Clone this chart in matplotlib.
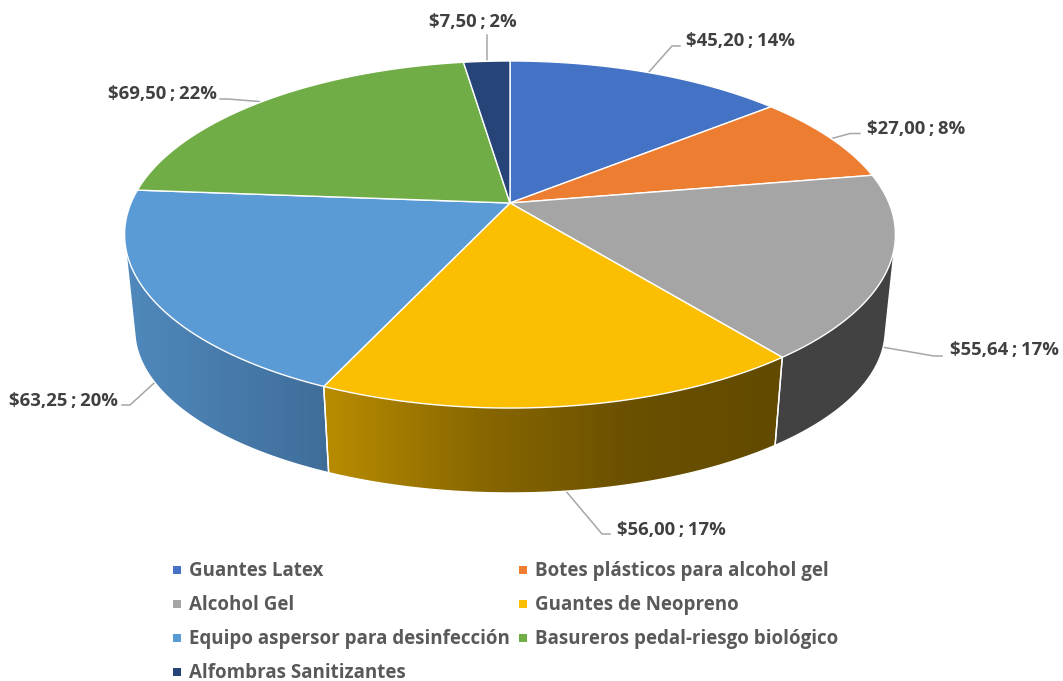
import numpy as np
import matplotlib
matplotlib.use("Agg")
import matplotlib.pyplot as plt
from matplotlib.patches import Polygon, Rectangle
from matplotlib.colors import LinearSegmentedColormap

categories = ["Guantes Latex", "Botes plásticos para alcohol gel", "Alcohol Gel", "Guantes de Neopreno",
              "Equipo aspersor para desinfección", "Basureros pedal-riesgo biológico", "Alfombras Sanitizantes"]
values = [45.20, 27.00, 55.64, 56.00, 63.25, 69.50, 7.50]
value_labels = ["$45,20", "$27,00", "$55,64", "$56,00", "$63,25", "$69,50", "$7,50"]
percent_labels = ["14%", "8%", "17%", "17%", "20%", "22%", "2%"]

top_colors = ["#4472c4", "#ed7d31", "#a5a5a5", "#fbbe00", "#5b9bd5", "#70ad47", "#264478"]
side_colors = [("#2f5597", "#2f5597"), ("#a85a20", "#a85a20"), ("#424242", "#424242"),
               ("#b98c00", "#8a6800", "#6a5000", "#624a00"),
               ("#5089bd", "#3f6d99"), ("#4e7a32", "#4e7a32"), ("#1a2f54", "#1a2f54")]

# pie geometry, pixels
cx, cy = 510, 203
rx, ry = 379, 167.8
persp = 0.1816
# the bottom disc has its own centre and radii
cy2 = 300.4
rx2, ry2 = 369, 157.6


def project(t, bottom=False):
    x, y = np.sin(t), np.cos(t)
    d = 1 + persp * y
    if bottom:
        return cx + rx2 * x / d, cy2 - ry2 * y / d
    return cx + rx * x / d, cy - ry * y / d


def hull(points):
    pts = sorted(map(tuple, points))

    def half(seq):
        out = []
        for p in seq:
            while len(out) > 1 and ((out[-1][0] - out[-2][0]) * (p[1] - out[-2][1])
                                    - (out[-1][1] - out[-2][1]) * (p[0] - out[-2][0])) <= 0:
                out.pop()
            out.append(p)
        return out[:-1]

    return np.array(half(pts) + half(pts[::-1]))


fig = plt.figure(figsize=(10.63, 6.81), dpi=100)
ax = fig.add_axes([0, 0, 1, 1])

edges = np.concatenate([[0], np.cumsum(values)]) / np.sum(values) * 2 * np.pi

# side walls first, the top covers whatever is behind
for i in range(len(values)):
    t = np.linspace(edges[i], edges[i + 1], 120)
    x1, y1 = project(t)
    x2, y2 = project(t, bottom=True)
    pts = hull(np.column_stack([np.r_[x1, x2], np.r_[y1, y2]]))
    wall = Polygon(pts, closed=True, fc="none", ec="white", lw=1.0, zorder=2)
    ax.add_patch(wall)
    cmap = LinearSegmentedColormap.from_list("side", side_colors[i])
    grad = np.linspace(0, 1, 256).reshape(1, -1)
    im = ax.imshow(grad, cmap=cmap, aspect="auto", zorder=1, interpolation="bilinear",
                   extent=[pts[:, 0].min(), pts[:, 0].max(), pts[:, 1].max(), pts[:, 1].min()])
    im.set_clip_path(wall)

for i in range(len(values)):
    t = np.linspace(edges[i], edges[i + 1], 120)
    x1, y1 = project(t)
    pts = np.column_stack([np.r_[cx, x1], np.r_[cy, y1]])
    ax.add_patch(Polygon(pts, closed=True, fc=top_colors[i], ec="white", lw=1.0, zorder=3, joinstyle="round"))

# leader line and label position for each slice
leaders = [[(648, 73), (672, 46), (680, 46)],
           [(830, 139), (850, 133.5), (860, 133.5)],
           [(876, 346), (934, 356), (942, 356)],
           [(565, 490), (602, 534), (610, 534)],
           [(164, 374), (130, 405), (122, 405)],
           [(265, 102), (228, 99), (220, 99)],
           [(487, 64), (487, 35)]]
label_pos = [(686, 41, "left"), (867, 129, "left"), (950, 350, "left"), (617, 530, "left"),
             (118, 401, "right"), (217, 94, "right"), (473, 22, "center")]

for i in range(len(values)):
    ax.plot(*zip(*leaders[i]), color="#a6a6a6", lw=1.1, zorder=0.5, solid_joinstyle="round")
    lx, ly, ha = label_pos[i]
    ax.text(lx, ly, value_labels[i] + "\u2009;\u2009" + percent_labels[i], ha=ha, va="center", color="#404040",
            fontsize=13.3, family="Open Sans", weight="bold", zorder=5)

# legend, drawn by hand to keep the row order
legend_x = [173, 519]
legend_y = [570, 604, 638, 672]
for i, name in enumerate(categories):
    lx = legend_x[i % 2]
    ly = legend_y[i // 2]
    ax.add_patch(Rectangle((lx, ly - 4), 8, 8, fc=top_colors[i], ec="none", zorder=5))
    ax.text(lx + 16, ly + 1, name, ha="left", va="center", color="#595959",
            fontsize=13.5, family="Open Sans", weight="bold", zorder=5)

ax.set_xlim(0, 1063)
ax.set_ylim(681, 0)
ax.axis("off")
fig.savefig("out.png", dpi=100)
